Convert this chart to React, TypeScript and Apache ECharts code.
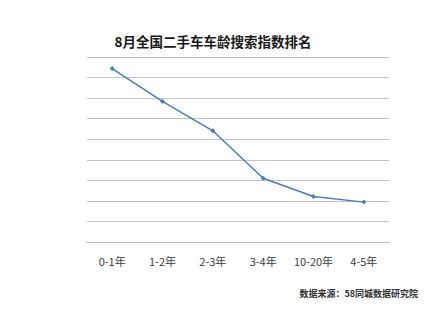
import React, { useEffect, useRef } from "react";
import * as echarts from "echarts";

const categories = ["0-1年", "1-2年", "2-3年", "3-4年", "10-20年", "4-5年"];
const values = [8.44, 6.84, 5.41, 3.1, 2.21, 1.94];
const titleText = "8月全国二手车车龄搜索指数排名";
const sourceText = "数据来源：58同城数据研究院";

export default function App() {
  const ref = useRef<HTMLDivElement>(null);
  useEffect(() => {
    const chart = echarts.init(ref.current!, null, { renderer: "svg" });
    chart.setOption({
      animation: false,
      backgroundColor: "#ffffff",
      title: {
        text: titleText,
        left: "center",
        top: 29,
        textStyle: {
          fontFamily: "Noto Sans CJK SC",
          fontSize: 13.5,
          fontWeight: "bold",
          color: "#1a1a1a",
        },
      },
      graphic: [
        {
          type: "text",
          right: 8,
          top: 289,
          style: {
            text: sourceText,
            font: "bold 9px 'Noto Sans CJK SC'",
            fill: "#333333",
          },
        },
      ],
      grid: { left: 87, right: 37, top: 57, bottom: 73 },
      xAxis: {
        type: "category",
        data: categories,
        boundaryGap: true,
        axisLine: { lineStyle: { color: "#bfbfbf", width: 1 } },
        axisTick: { show: false },
        axisLabel: {
          interval: 0,
          margin: 13,
          fontSize: 11,
          color: "#404040",
          fontFamily: "Noto Sans CJK SC",
        },
      },
      yAxis: {
        type: "value",
        min: 0,
        max: 9,
        interval: 1,
        axisLabel: { show: false },
        axisLine: { show: false },
        axisTick: { show: false },
        splitLine: { lineStyle: { color: "#c4c4c4", width: 1 } },
      },
      series: [
        {
          type: "line",
          data: values,
          symbol: "diamond",
          symbolSize: 5,
          lineStyle: { color: "#4a7ebb", width: 1.5 },
          itemStyle: { color: "#4a7ebb" },
        },
      ],
    });
    return () => chart.dispose();
  }, []);
  return (
    <div
      ref={ref}
      style={{ position: "fixed", left: 0, top: 0, width: 426, height: 315 }}
    />
  );
}
